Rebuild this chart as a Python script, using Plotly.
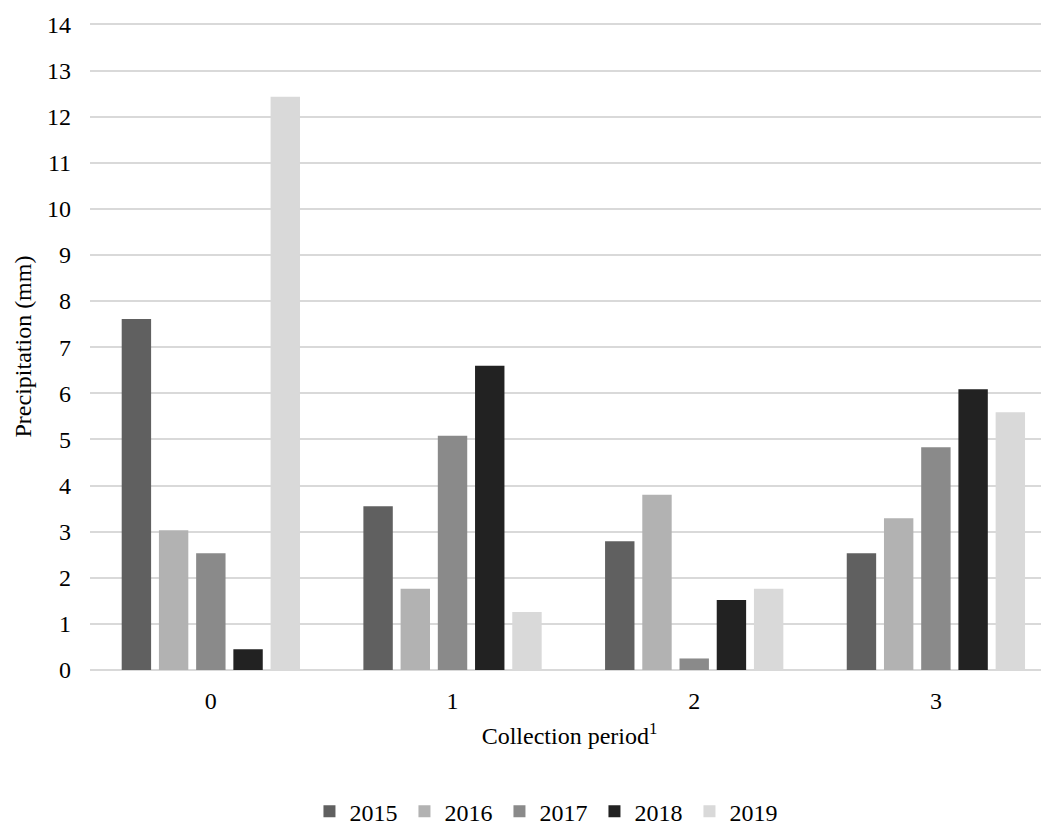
import plotly.graph_objects as go

categories = ["0", "1", "2", "3"]
years = ["2015", "2016", "2017", "2018", "2019"]
values_2015 = [7.61, 3.55, 2.79, 2.53]
values_2016 = [3.03, 1.76, 3.80, 3.29]
values_2017 = [2.53, 5.08, 0.25, 4.83]
values_2018 = [0.45, 6.60, 1.52, 6.09]
values_2019 = [12.43, 1.26, 1.76, 5.59]
colors = ["#606060", "#b2b2b2", "#8a8a8a", "#222222", "#d9d9d9"]
y_ticks = list(range(0, 15))
y_title = "Precipitation (mm)"
x_title = "Collection period<sup>1</sup>"

series = [values_2015, values_2016, values_2017, values_2018, values_2019]
FONT = "Times New Roman, Liberation Serif, serif"

fig = go.Figure()
for name, vals, col in zip(years, series, colors):
    fig.add_trace(go.Bar(
        x=list(range(len(categories))), y=vals, name=name,
        marker=dict(color=col, line=dict(width=0)),
    ))

fig.update_layout(
    width=1041, height=817,
    paper_bgcolor="white", plot_bgcolor="white",
    margin=dict(l=82, r=0, t=15, b=155, autoexpand=False),
    barmode="group", bargap=0.23, bargroupgap=0.21,
    font=dict(family=FONT, size=24, color="#000000"),
    showlegend=True,
    legend=dict(orientation="h", x=0.4765, xanchor="center", y=-0.219, yanchor="middle",
                font=dict(family=FONT, size=24), itemwidth=30, traceorder="normal",
                tracegroupgap=0, entrywidth=50, bgcolor="rgba(0,0,0,0)"),
    xaxis=dict(
        tickmode="array", tickvals=list(range(len(categories))), ticktext=categories,
        range=[-0.5, 3.468], showgrid=False, zeroline=False, showline=False,
        ticks="", ticklabelstandoff=14, automargin=False,
        title=dict(text=x_title, standoff=14, font=dict(family=FONT, size=24)),
    ),
    yaxis=dict(
        range=[0, 14.03], tickvals=y_ticks, showgrid=True, gridcolor="#d9d9d9", gridwidth=1.5,
        zeroline=True, zerolinecolor="#d9d9d9", zerolinewidth=2, showline=False,
        ticks="", ticklabelstandoff=18, automargin=False,
    ),
    annotations=[dict(
        text=y_title, textangle=-90, xref="paper", yref="paper",
        x=-0.0709, y=0.5, xanchor="center", yanchor="middle", showarrow=False,
        font=dict(family=FONT, size=24, color="#000000"),
    )],
)

fig.write_html("out.html")
